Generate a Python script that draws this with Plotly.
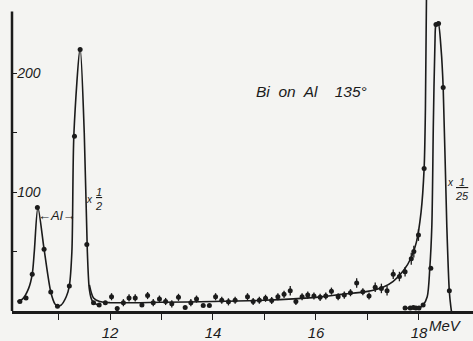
import plotly.graph_objects as go

# --- data ---
# measured points on the two low-energy peaks (Al peak and x1/2 peak)
peak_x = [10.25, 10.37, 10.49, 10.59, 10.72, 10.85, 10.98, 11.21, 11.31, 11.42, 11.55, 11.68, 11.79]
peak_y = [8, 11, 31, 87, 52, 16, 4, 21, 147, 220, 56, 7, 5]

# background / continuum points (with error bars)
bg_x = [11.91, 12.03, 12.14, 12.26, 12.37, 12.49, 12.62, 12.73, 12.84, 12.96, 13.08, 13.20,
        13.33, 13.46, 13.57, 13.68, 13.81, 13.93, 14.05, 14.17, 14.30, 14.43, 14.67, 14.78,
        14.90, 15.02, 15.14, 15.26, 15.38, 15.50, 15.61, 15.73, 15.84, 15.96, 16.08, 16.19,
        16.30, 16.43, 16.55, 16.67, 16.79, 16.91, 17.03, 17.15, 17.27, 17.38, 17.50, 17.62,
        17.73, 17.85, 17.90, 17.99, 18.10]
bg_y = [7, 12, 2, 7, 11, 11, 5, 13, 7, 10, 8, 6,
        11.5, 3, 7, 10, 4.7, 4.7, 12, 9, 7.7, 9, 12, 8,
        9, 10.7, 8.8, 12, 14, 17, 8, 12, 13.4, 12.6, 11.5, 12.6,
        16.7, 12, 13.4, 15.4, 23.6, 16.2, 12.6, 20, 19, 17, 31, 29,
        33, 44, 50, 64, 120]
bg_err = [0, 3, 0, 3, 3, 3, 0, 3, 3, 3, 3, 3,
          3, 0, 3, 3, 0, 0, 3, 3, 3, 3, 3, 3,
          3, 3, 3, 3, 3, 4, 3, 3, 3, 3, 3, 3,
          3, 3, 3, 3, 4, 3, 3, 4, 4, 4, 4, 4,
          4, 5, 5, 5, 0]

# Bi peak (x1/25) points
bi_x = [17.73, 17.83, 17.89, 17.94, 18.00, 18.08, 18.23, 18.33, 18.38, 18.47, 18.59]
bi_y = [2.5, 2.5, 3, 2.5, 2.5, 5, 36, 241, 242, 188, 17]

# drawn curves (knots)
c1_x = [10.20, 10.30, 10.42, 10.49, 10.53, 10.60, 10.72, 10.85, 10.93, 10.98, 11.05, 11.15,
        11.21, 11.26, 11.30, 11.42, 11.50, 11.56, 11.60, 11.65, 11.72, 11.80]
c1_y = [8, 10, 19, 31, 50, 87, 52, 16, 6, 4, 5, 12,
        21, 50, 150, 221, 150, 50, 18, 9, 6, 5]

c2_x = [11.60, 11.68, 11.80, 12.0, 13.0, 14.0, 15.0, 16.0, 16.5, 17.0, 17.3, 17.5, 17.7,
        17.85, 17.95, 18.04, 18.10, 18.125, 18.145]
c2_y = [22, 11, 8, 7, 7.3, 8, 9, 11.5, 14, 16.5, 20, 25, 34,
        45, 58, 83, 120, 170, 262]

c3_x = [17.70, 18.00, 18.08, 18.16, 18.21, 18.25, 18.28, 18.31, 18.33, 18.37, 18.43, 18.47,
        18.54, 18.59, 18.62, 18.63]
c3_y = [2.5, 2.5, 5, 12, 36, 72, 160, 225, 241, 243, 220, 188,
        72, 16, 3, 0]

x_tickvals = [11, 12, 13, 14, 15, 16, 17, 18]
x_ticktext = ["", "12", "", "14", "", "16", "", "18"]
y_tickvals = [50, 100, 150, 200]
y_ticktext = ["", "100", "", "200"]

INK = "#1b1b1b"
BG = "#f4f4f2"
FONT = "Liberation Sans"

fig = go.Figure()
for cx, cy in [(c1_x, c1_y), (c2_x, c2_y), (c3_x, c3_y)]:
    fig.add_trace(go.Scatter(x=cx, y=cy, mode="lines",
                             line=dict(color=INK, width=1.6, shape="spline", smoothing=0.8),
                             hoverinfo="skip", showlegend=False))

fig.add_trace(go.Scatter(x=peak_x, y=peak_y, mode="markers",
                         marker=dict(color=INK, size=5), showlegend=False))
fig.add_trace(go.Scatter(x=bg_x, y=bg_y, mode="markers",
                         marker=dict(color=INK, size=5),
                         error_y=dict(type="data", array=bg_err, color=INK, thickness=1.3, width=0),
                         showlegend=False))
fig.add_trace(go.Scatter(x=bi_x, y=bi_y, mode="markers",
                         marker=dict(color=INK, size=5), showlegend=False))

italic = dict(family=FONT, color=INK, style="italic")

fig.update_layout(
    width=473, height=341,
    margin=dict(l=12, r=0, t=0, b=23),
    paper_bgcolor=BG, plot_bgcolor=BG,
    showlegend=False,
    xaxis=dict(range=[10.097, 19.049], showgrid=False, zeroline=False,
               showline=True, linewidth=2.5, linecolor=INK,
               tickmode="array", tickvals=x_tickvals, ticktext=x_ticktext,
               ticks="outside", ticklen=6, tickwidth=1.3, tickcolor=INK,
               tickfont=dict(size=15, **italic)),
    yaxis=dict(range=[0, 261.7], showgrid=False, zeroline=False, showline=False,
               tickmode="array", tickvals=y_tickvals, ticktext=y_ticktext,
               ticks="inside", ticklen=5, tickwidth=1.3, tickcolor=INK,
               ticklabelposition="inside",
               tickfont=dict(size=14, **italic)),
    shapes=[dict(type="line", xref="paper", yref="y", x0=0, x1=0, y0=0, y1=252,
                 line=dict(color=INK, width=2.5))],
    annotations=[
        dict(text="Bi  on  Al    135°", x=14.80, y=185, xanchor="left", yanchor="middle",
             showarrow=False, font=dict(size=15.5, **italic)),
        dict(text="←Al→", x=10.97, y=80, xanchor="center", yanchor="middle",
             showarrow=False, font=dict(size=13, **italic)),
        dict(text="x", x=11.61, y=94, xanchor="center", yanchor="middle",
             showarrow=False, font=dict(size=10, **italic)),
        dict(text="<u>1</u><br>2", x=11.78, y=94, xanchor="center", yanchor="middle",
             showarrow=False, font=dict(size=11, **italic)),
        dict(text="x", x=18.62, y=108, xanchor="center", yanchor="middle",
             showarrow=False, font=dict(size=10, **italic)),
        dict(text="<u>&nbsp;1&nbsp;</u><br>25", x=18.83, y=103, xanchor="center", yanchor="middle",
             showarrow=False, font=dict(size=11, **italic)),
        dict(text="MeV", xref="x", yref="paper", x=18.52, y=-0.047, xanchor="center",
             yanchor="middle", showarrow=False, font=dict(size=15, **italic)),
    ],
)

fig.write_html("out.html", config={"displayModeBar": False},
               post_script="document.body.style.margin='0';document.body.style.overflow='hidden';")
